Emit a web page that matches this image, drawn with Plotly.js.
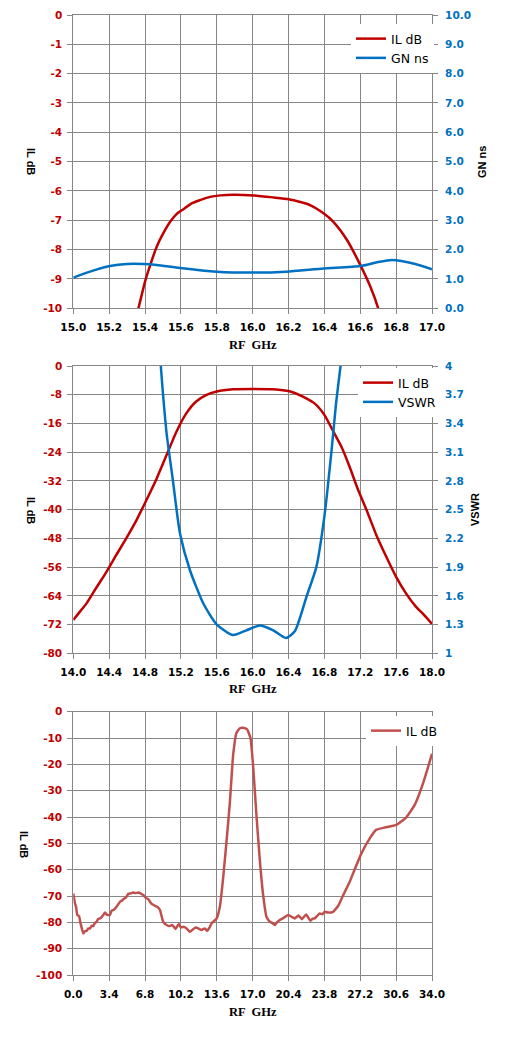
<!DOCTYPE html>
<html><head><meta charset="utf-8">
<script src="https://cdn.plot.ly/plotly-3.0.1.min.js"></script>
<style>html,body{margin:0;padding:0;background:#fff;}#chart{width:508px;height:1038px;}</style>
</head><body><div id="chart"></div>
<script>
// ---- Chart 1: IL dB and GN ns (15-17 GHz)
var il1Freq = [15.34, 15.363, 15.40, 15.432, 15.465, 15.502, 15.54, 15.577, 15.614, 15.66, 15.707, 15.763, 15.82, 15.893, 16.005, 16.116, 16.2, 16.265, 16.32, 16.395, 16.45, 16.526, 16.60, 16.656, 16.70, 16.72];
var il1dB   = [-10.5, -10, -9.09, -8.47, -7.90, -7.44, -7.05, -6.78, -6.62, -6.42, -6.31, -6.20, -6.15, -6.125, -6.15, -6.22, -6.28, -6.375, -6.48, -6.76, -7.05, -7.67, -8.52, -9.26, -10, -10.5];
var gnFreq  = [15.0, 15.093, 15.205, 15.30, 15.39, 15.465, 15.595, 15.80, 16.0, 16.186, 16.395, 16.60, 16.693, 16.777, 16.907, 17.0];
var gnNs    = [1.045, 1.25, 1.44, 1.51, 1.51, 1.48, 1.375, 1.25, 1.22, 1.25, 1.36, 1.44, 1.57, 1.65, 1.51, 1.33];
var il1Ticks = [-10, -9, -8, -7, -6, -5, -4, -3, -2, -1, 0];

// ---- Chart 2: IL dB and VSWR (14-18 GHz)
var il2Freq = [14.0, 14.074, 14.148, 14.26, 14.37, 14.48, 14.59, 14.705, 14.816, 14.93, 15.04, 15.15, 15.26, 15.37, 15.48, 15.60, 15.78, 16.0, 16.23, 16.41, 16.56, 16.69, 16.80, 16.89, 16.99, 17.08, 17.17, 17.27, 17.38, 17.49, 17.60, 17.71, 17.82, 17.91, 18.0];
var il2dB   = [-70.7, -68.4, -66.1, -61.6, -57.3, -52.6, -48.0, -42.9, -37.3, -31.3, -24.8, -18.3, -13.2, -9.9, -8.1, -7.1, -6.5, -6.4, -6.5, -7.05, -8.5, -10.4, -13.6, -17.8, -22.5, -28.0, -34.1, -40.1, -47.1, -53.1, -58.7, -63.3, -67.0, -69.3, -71.8];
var vswrFreq = [14.96, 14.976, 15.0, 15.04, 15.11, 15.19, 15.30, 15.45, 15.60, 15.78, 15.93, 16.08, 16.23, 16.37, 16.47, 16.60, 16.71, 16.80, 16.88, 16.93, 16.98, 16.99];
var vswrVal  = [4.2, 4.0, 3.71, 3.30, 2.81, 2.25, 1.87, 1.52, 1.30, 1.19, 1.24, 1.29, 1.24, 1.16, 1.23, 1.59, 1.90, 2.43, 3.12, 3.61, 4.0, 4.1];
var il2Ticks = [-80, -72, -64, -56, -48, -40, -32, -24, -16, -8, 0];
var vswrTicks = [1, 1.3, 1.6, 1.9, 2.2, 2.5, 2.8, 3.1, 3.4, 3.7, 4];
var vswrTickText = ['1', '1.3', '1.6', '1.9', '2.2', '2.5', '2.8', '3.1', '3.4', '3.7', '4'];

// ---- Chart 3: IL dB wideband (0-34 GHz)
var il3Freq = [0.0, 0.16, 0.26, 0.38, 0.54, 0.69, 0.95, 1.1, 1.27, 1.4, 1.58, 1.75, 1.89, 2.05, 2.21, 2.35, 2.53, 2.7, 2.84, 3.0, 3.22, 3.47, 3.63, 3.85, 4.1, 4.42, 4.6, 4.74, 5.0, 5.21, 5.45, 5.68, 5.9, 6.16, 6.4, 6.63, 6.85, 7.1, 7.42, 7.7, 7.95, 8.21, 8.52, 8.84, 9.16, 9.35, 9.54, 9.7, 10.0, 10.2, 10.42, 10.74, 11.05, 11.36, 11.6, 11.84, 12.16, 12.47, 12.69, 12.95, 13.1, 13.58, 13.89, 14.2, 14.53, 14.84, 15.15, 15.47, 15.79, 16.1, 16.48, 16.8, 17.05, 17.37, 17.68, 17.99, 18.31, 18.63, 18.85, 19.1, 19.3, 19.57, 19.9, 20.36, 20.7, 20.99, 21.35, 21.67, 22.07, 22.48, 22.7, 22.89, 23.1, 23.36, 23.6, 23.84, 24.2, 24.62, 25.1, 25.57, 26.2, 26.52, 27.31, 28.1, 28.73, 29.52, 30.63, 31.57, 32.36, 33.15, 33.78, 34.0];
var il3dB   = [-69.0, -72.8, -74.1, -77.2, -77.6, -80.4, -84.2, -83.4, -83.2, -82.4, -82.3, -81.3, -81.4, -80.2, -79.8, -78.7, -78.5, -77.9, -77.2, -76.3, -77.2, -77.2, -75.6, -75.2, -74.1, -72.2, -71.8, -71.2, -70.5, -69.2, -69.0, -68.7, -68.9, -68.7, -69.1, -69.6, -70.6, -71.2, -73.0, -73.6, -74.1, -75.3, -79.8, -81.0, -81.4, -81.0, -81.7, -82.5, -80.6, -82.0, -81.7, -82.3, -83.6, -82.6, -82.0, -82.3, -82.9, -82.3, -83.2, -81.7, -80.4, -78.6, -74.1, -63.3, -49.0, -34.5, -16.5, -8.0, -6.3, -6.1, -6.7, -10.1, -20.9, -39.9, -56.3, -69.5, -77.9, -79.8, -80.2, -81.0, -80.0, -79.1, -78.4, -77.2, -77.9, -78.5, -77.4, -78.8, -77.0, -79.4, -78.6, -78.5, -77.6, -76.6, -76.9, -76.0, -76.3, -76.0, -73.8, -69.8, -64.6, -61.4, -53.8, -48.1, -44.8, -44.0, -43.0, -40.1, -35.4, -27.2, -19.0, -16.0];
var il3Ticks = [-100, -90, -80, -70, -60, -50, -40, -30, -20, -10, 0];

var RED = '#C00000', BLUE = '#0070C0', RED3 = '#C0504D', GRID = '#868686';
var W = 508, H = 1038;
function px(x) { return x / W; }
function py(y) { return 1 - y / H; }

var tickFont = function (c) { return { family: 'DejaVu Sans', size: 10.5, color: c, weight: 'bold' }; };

function xAx(range, dtick, anchor) {
  return {
    domain: [px(73.3), px(432)], anchor: anchor, range: range, dtick: dtick, tick0: range[0],
    tickformat: '.1f', showgrid: true, gridcolor: GRID, gridwidth: 1, zeroline: false,
    showline: true, linecolor: GRID, linewidth: 1, mirror: true,
    ticks: 'outside', ticklen: 5, tickcolor: GRID, ticklabelstandoff: 4,
    tickfont: tickFont('#000'), fixedrange: true
  };
}
function yAx(dom, range, ticks, anchor) {
  return {
    domain: dom, anchor: anchor, range: range,
    tickvals: ticks, ticktext: ticks.map(function (v) { return String(v); }),
    showgrid: true, gridcolor: GRID, gridwidth: 1, zeroline: false,
    showline: true, linecolor: GRID, linewidth: 1, mirror: true,
    ticks: 'outside', ticklen: 5, tickcolor: GRID, ticklabelstandoff: 3,
    tickfont: tickFont(RED), fixedrange: true
  };
}
function yRight(overlay, anchor, range, extra) {
  var a = {
    overlaying: overlay, side: 'right', anchor: anchor, range: range,
    showgrid: false, zeroline: false, showline: false,
    ticks: 'outside', ticklen: 5, tickcolor: GRID, ticklabelstandoff: 5,
    tickfont: tickFont(BLUE), fixedrange: true
  };
  for (var k in extra) a[k] = extra[k];
  return a;
}

var traces = [
  { x: il1Freq, y: il1dB, name: 'IL dB', type: 'scatter', mode: 'lines', xaxis: 'x', yaxis: 'y', legend: 'legend',
    line: { color: RED, width: 2.5, shape: 'spline', smoothing: 0.6 } },
  { x: gnFreq, y: gnNs, name: 'GN ns', type: 'scatter', mode: 'lines', xaxis: 'x', yaxis: 'y2', legend: 'legend',
    line: { color: BLUE, width: 2.5, shape: 'spline', smoothing: 0.6 } },
  { x: il2Freq, y: il2dB, name: 'IL dB', type: 'scatter', mode: 'lines', xaxis: 'x2', yaxis: 'y3', legend: 'legend2',
    line: { color: RED, width: 2.5, shape: 'spline', smoothing: 0.6 } },
  { x: vswrFreq, y: vswrVal, name: 'VSWR', type: 'scatter', mode: 'lines', xaxis: 'x2', yaxis: 'y4', legend: 'legend2',
    line: { color: BLUE, width: 2.5, shape: 'spline', smoothing: 0.6 } },
  { x: il3Freq, y: il3dB, name: 'IL dB', type: 'scatter', mode: 'lines', xaxis: 'x3', yaxis: 'y5', legend: 'legend3',
    line: { color: RED3, width: 2.5, shape: 'spline', smoothing: 0.4 } }
];

var legendBase = function (x, y) {
  return { x: px(x), y: py(y), xanchor: 'left', yanchor: 'top', bgcolor: '#fff', borderwidth: 0,
    font: { family: 'DejaVu Sans', size: 12.5, color: '#000' }, itemwidth: 30, tracegroupgap: 0 };
};

var ann = function (text, x, y, angle, font) {
  return { text: text, xref: 'paper', yref: 'paper', x: px(x), y: py(y), xanchor: 'center', yanchor: 'middle',
    showarrow: false, textangle: angle, font: font };
};
var sideFont = { family: 'Liberation Sans', size: 11, color: '#000', weight: 'bold' };
var xFont = { family: 'Liberation Serif', size: 12.5, color: '#000', weight: 'bold' };

var layout = {
  width: W, height: H, autosize: false,
  margin: { l: 0, r: 0, t: 0, b: 0 },
  paper_bgcolor: '#fff', plot_bgcolor: '#fff',
  showlegend: true,
  xaxis: xAx([15, 17], 0.2, 'y'),
  yaxis: yAx([py(308.3), py(15)], [-10, 0], il1Ticks, 'x'),
  yaxis2: yRight('y', 'x', [0, 10], { dtick: 1, tick0: 0, tickformat: '.1f' }),
  xaxis2: xAx([14, 18], 0.4, 'y3'),
  yaxis3: yAx([py(653.3), py(366)], [-80, 0], il2Ticks, 'x2'),
  yaxis4: yRight('y3', 'x2', [1, 4], { tickvals: vswrTicks, ticktext: vswrTickText }),
  xaxis3: xAx([0, 34], 3.4, 'y5'),
  yaxis5: yAx([py(975), py(711.7)], [-100, 0], il3Ticks, 'x3'),
  legend: legendBase(351, 24),
  legend2: legendBase(358, 368),
  legend3: legendBase(366, 716),
  annotations: [
    ann('IL dB', 31, 161, 90, sideFont),
    ann('GN ns', 482, 162, -90, sideFont),
    ann('RF  GHz', 253, 345, 0, xFont),
    ann('IL dB', 31, 510, 90, sideFont),
    ann('VSWR', 475, 510, -90, sideFont),
    ann('RF  GHz', 253, 689, 0, xFont),
    ann('IL dB', 24, 844, 90, sideFont),
    ann('RF  GHz', 253, 1012, 0, xFont)
  ]
};

Plotly.newPlot('chart', traces, layout, { staticPlot: true, displayModeBar: false });
</script>
</body></html>
